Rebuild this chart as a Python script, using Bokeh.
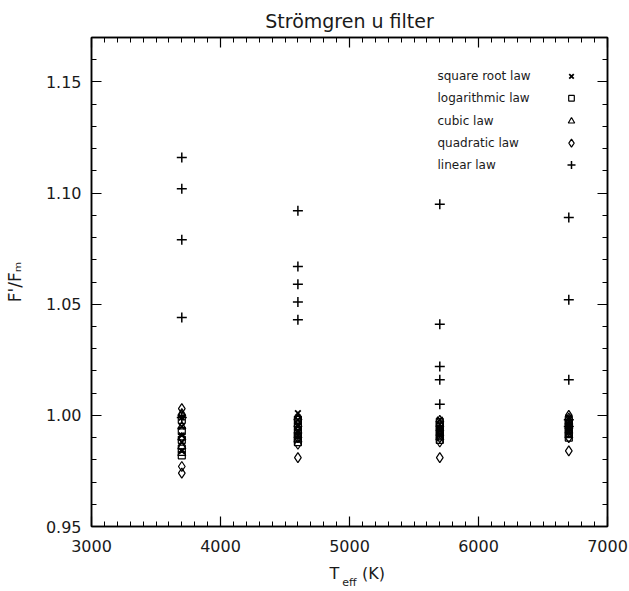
from bokeh.plotting import figure
from bokeh.models import Range1d, LinearAxis, FixedTicker
from bokeh.embed import file_html
from bokeh.resources import INLINE

# ---------------- data ----------------
teff = [3700, 4600, 5700, 6700]

linear_law = [
    [1.116, 1.102, 1.079, 1.044, 0.999],
    [1.092, 1.067, 1.059, 1.051, 1.043],
    [1.095, 1.041, 1.022, 1.016, 1.005],
    [1.089, 1.052, 1.016, 0.998, 0.995],
]
quadratic_law = [
    [1.003, 1.000, 0.990, 0.977, 0.974],
    [0.998, 0.994, 0.990, 0.987, 0.981],
    [0.996, 0.993, 0.990, 0.988, 0.981],
    [1.000, 0.997, 0.993, 0.990, 0.984],
]
cubic_law = [
    [1.001, 0.995, 0.990, 0.986, 0.983],
    [0.999, 0.996, 0.993, 0.991, 0.989],
    [0.998, 0.996, 0.994, 0.992, 0.990],
    [0.999, 0.997, 0.995, 0.993, 0.991],
]
logarithmic_law = [
    [0.998, 0.993, 0.989, 0.985, 0.982],
    [0.998, 0.995, 0.992, 0.990, 0.988],
    [0.997, 0.995, 0.993, 0.991, 0.989],
    [0.998, 0.996, 0.994, 0.992, 0.990],
]
square_root_law = [
    [0.999, 0.995, 0.991, 0.988, 0.984],
    [1.001, 0.998, 0.995, 0.993, 0.991],
    [0.998, 0.996, 0.994, 0.993, 0.991],
    [0.999, 0.997, 0.996, 0.994, 0.993],
]

legend_labels = ["square root law", "logarithmic law", "cubic law",
                 "quadratic law", "linear law"]
x_ticks = [3000, 4000, 5000, 6000, 7000]
y_ticks = [0.95, 1.00, 1.05, 1.10, 1.15]
title_text = "Strömgren u filter"
y_title = "F'/Fₘ"

# ---------------- layout ----------------
W, H = 629, 591
FL, FR, FT, FB = 91, 607, 37, 528          # frame edges in page pixels
XMIN, XMAX, YMIN, YMAX = 3000, 7000, 0.95, 1.17
FW, FH = FR - FL, FB - FT
FONT = "DejaVu Sans"
TXT = "#1a1a1a"


def dx(px):  # page pixel -> data x (for placing hand-drawn legend)
    return XMIN + (px - FL) / FW * (XMAX - XMIN)


def dy(py):  # page pixel -> data y
    return YMIN + (FB - py) / FH * (YMAX - YMIN)


p = figure(width=W, height=H, output_backend="svg", toolbar_location=None,
           x_range=Range1d(XMIN, XMAX), y_range=Range1d(YMIN, YMAX),
           min_border_left=FL, min_border_right=W - FR, min_border_top=FT,
           min_border_bottom=H - FB, x_axis_type=None, y_axis_type=None,
           title=title_text)
p.title.align = "center"
p.title.text_font = FONT
p.title.text_font_size = "19px"
p.title.text_font_style = "normal"
p.title.text_color = TXT
p.title.standoff = 12
p.xgrid.visible = False
p.ygrid.visible = False
p.outline_line_color = "black"
p.outline_line_width = 1.5
p.background_fill_color = "white"
p.border_fill_color = "white"


def style_axis(ax, labels=True):
    ax.axis_line_color = "black"
    ax.axis_line_width = 1.5
    ax.major_tick_in = 10
    ax.major_tick_out = 0
    ax.minor_tick_in = 5
    ax.minor_tick_out = 0
    ax.major_tick_line_color = "black"
    ax.minor_tick_line_color = "black"
    ax.major_tick_line_width = 1.2
    ax.minor_tick_line_width = 1.0
    ax.major_label_text_font = FONT
    ax.major_label_text_font_size = "16px"
    ax.major_label_text_color = TXT
    ax.major_label_standoff = 10
    ax.axis_label_text_font = FONT
    ax.axis_label_text_font_style = "normal"
    ax.axis_label_text_color = TXT
    if not labels:
        # mirror axis: ticks only, labels not painted
        ax.major_label_text_font_size = "1px"
        ax.major_label_text_color = None
        ax.major_label_standoff = 0


def text_axis(ticks, labels, size, standoff):
    ax = LinearAxis(ticker=FixedTicker(ticks=ticks, minor_ticks=[]))
    ax.major_label_overrides = dict(zip(ticks, labels))
    ax.axis_line_color = None
    ax.major_tick_line_color = None
    ax.minor_tick_line_color = None
    ax.major_tick_in = 0
    ax.major_tick_out = 0
    ax.major_label_text_font = FONT
    ax.major_label_text_font_size = size
    ax.major_label_text_color = TXT
    ax.major_label_standoff = standoff
    return ax


xminor = list(range(3000, 7001, 100))
yminor = [round(0.95 + 0.01 * i, 2) for i in range(23)]

xb = LinearAxis(ticker=FixedTicker(ticks=x_ticks, minor_ticks=xminor))
style_axis(xb, True)
xb.major_label_standoff = 13
p.add_layout(xb, "below")
# x title  "T_eff (K)" built from two rows of text labels
p.add_layout(text_axis([dx(334), dx(373)], ["T", "(K)"], "16px", 9), "below")
p.add_layout(text_axis([dx(349)], ["eff"], "11px", -10), "below")

xt = LinearAxis(ticker=FixedTicker(ticks=x_ticks, minor_ticks=xminor))
style_axis(xt, False)
p.add_layout(xt, "above")

yl = LinearAxis(ticker=FixedTicker(ticks=y_ticks, minor_ticks=yminor))
style_axis(yl, True)
yl.major_label_overrides = {t: f"{t:.2f}" for t in y_ticks}
yl.axis_label = y_title
yl.axis_label_text_font_size = "17px"
yl.axis_label_standoff = 18
p.add_layout(yl, "left")

yr = LinearAxis(ticker=FixedTicker(ticks=y_ticks, minor_ticks=yminor))
style_axis(yr, False)
p.add_layout(yr, "right")


def flat(series):
    xs, ys = [], []
    for t, vals in zip(teff, series):
        for v in vals:
            xs.append(t)
            ys.append(v)
    return xs, ys


specs = [
    (square_root_law, "x", 8, 1.8),
    (logarithmic_law, "square", 7, 1.2),
    (cubic_law, "triangle", 8, 1.2),
    (quadratic_law, "diamond", 10, 1.2),
    (linear_law, "cross", 10, 1.5),
]
for series, marker, size, lw in specs:
    xs, ys = flat(series)
    p.scatter(xs, ys, marker=marker, size=size, line_color="black",
              fill_color=None, line_width=lw)

# ---------------- legend (hand drawn, inside the frame) ----------------
leg_y = [76, 98, 121, 143, 165]
for lab, py, (series, marker, size, lw) in zip(legend_labels, leg_y, specs):
    p.text([dx(437)], [dy(py)], text=[lab], text_font_size="12px",
           text_align="left", text_baseline="middle", text_color=TXT,
           text_font={"value": FONT})
    p.scatter([dx(571)], [dy(py)], marker=marker, size=size * 0.8,
              line_color="black", fill_color=None, line_width=lw)

open("out.html", "w").write(file_html(p, INLINE))
